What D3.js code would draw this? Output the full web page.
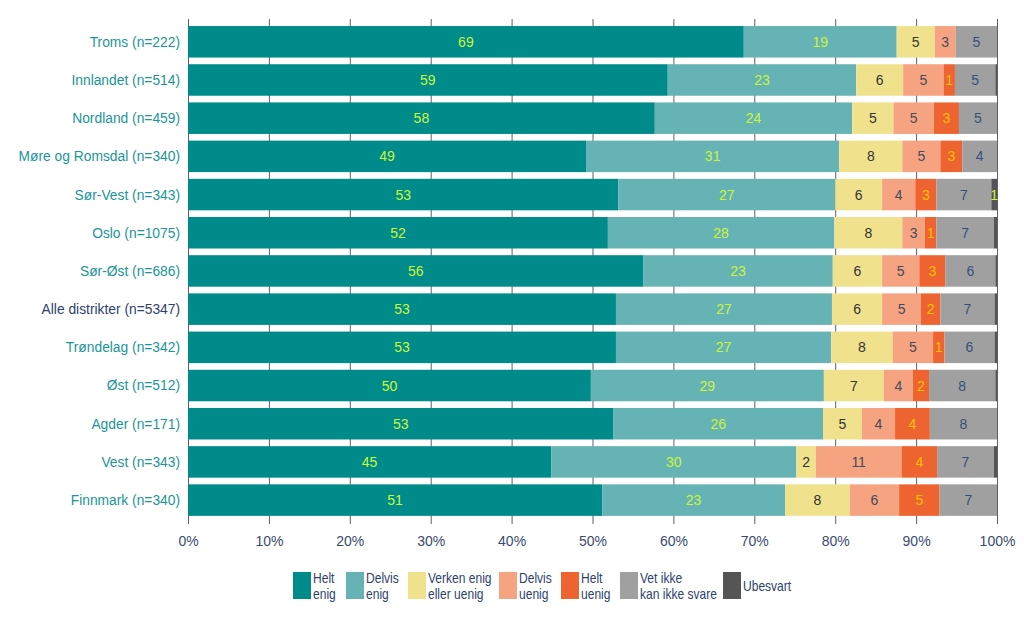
<!DOCTYPE html>
<html><head><meta charset="utf-8">
<script src="https://cdn.jsdelivr.net/npm/d3@7"></script>
<style>body{margin:0;background:#fff}svg{display:block;font-family:"Liberation Sans",Arial,sans-serif}</style>
</head><body><svg id="c" width="1024" height="627"></svg>
<script>
const categories = ["Troms (n=222)","Innlandet (n=514)","Nordland (n=459)","Møre og Romsdal (n=340)","Sør-Vest (n=343)","Oslo (n=1075)","Sør-Øst (n=686)","Alle distrikter (n=5347)","Trøndelag (n=342)","Øst (n=512)","Agder (n=171)","Vest (n=343)","Finnmark (n=340)"];
const seriesNames = ["Helt enig","Delvis enig","Verken enig eller uenig","Delvis uenig","Helt uenig","Vet ikke kan ikke svare","Ubesvart"];
const legendLines = [["Helt","enig"],["Delvis","enig"],["Verken enig","eller uenig"],["Delvis","uenig"],["Helt","uenig"],["Vet ikke","kan ikke svare"],["Ubesvart"]];
const heltEnig    = [68.7,59.3,57.7,49.2,53.2,51.9,56.3,52.9,52.9,49.8,52.6,44.9,51.2];
const delvisEnig  = [18.9,23.3,24.4,31.3,26.8,28.0,23.4,26.7,26.6,28.8,25.9,30.3,22.6];
const verken      = [4.7,5.8,5.1,7.8,5.8,8.4,6.1,6.2,7.6,7.4,4.8,2.4,8.0];
const delvisUenig = [2.6,5.0,5.0,4.7,4.1,2.8,4.6,4.8,5.0,3.6,4.1,10.6,6.1];
const heltUenig   = [0.0,1.4,3.1,2.7,2.6,1.4,3.2,2.4,1.4,2.0,4.3,4.4,5.0];
const vetIkke     = [5.1,5.0,4.7,4.3,6.8,7.1,6.2,6.7,6.2,8.2,8.3,7.0,7.1];
const ubesvart    = [0.0,0.2,0.0,0.0,0.7,0.4,0.2,0.3,0.3,0.2,0.0,0.4,0.0];
const xTicks = [0,10,20,30,40,50,60,70,80,90,100];

const series = [heltEnig,delvisEnig,verken,delvisUenig,heltUenig,vetIkke,ubesvart];
const colors = ["#008b8b","#66b3b5","#f0e28d","#f5a381","#ee6430","#a0a0a0","#555555"];
const labelColors = ["#ccf53a","#ccf53a","#333333","#454b5c","#ffc000","#34507a","#ccf53a"];

const svg = d3.select("#c");
const x = d3.scaleLinear().domain([0,100]).range([188,997]);
const y = d3.scaleBand().domain(categories).range([22.6,519.3]).paddingInner(0.175).paddingOuter(0.09);

// grid
svg.append("g").selectAll("line").data(xTicks).join("line")
  .attr("x1",d=>x(d)+0.5).attr("x2",d=>x(d)+0.5).attr("y1",19).attr("y2",524)
  .attr("stroke","#5a6070").attr("stroke-width",1);

const rows = categories.map((c,i)=>{
  let acc=0;
  return series.map((s,k)=>{const v=s[i];const o={cat:c,k,v,x0:acc,x1:acc+v};acc+=v;return o;});
});
const g = svg.append("g");
rows.forEach(r=>{
  g.selectAll(null).data(r).join("rect")
    .attr("x",d=>x(d.x0)).attr("width",d=>Math.max(0,x(d.x1)-x(d.x0)))
    .attr("y",d=>y(d.cat)).attr("height",y.bandwidth())
    .attr("fill",d=>colors[d.k]);
  g.selectAll(null).data(r.filter(d=>Math.round(d.v)>=1)).join("text")
    .attr("x",d=>x((d.x0+d.x1)/2)).attr("y",d=>y(d.cat)+y.bandwidth()/2)
    .attr("dy","0.36em").attr("text-anchor","middle")
    .attr("font-size",14).attr("fill",d=>labelColors[d.k])
    .text(d=>Math.round(d.v));
});

// y labels
svg.append("g").selectAll("text").data(categories).join("text")
  .attr("x",180).attr("y",d=>y(d)+y.bandwidth()/2).attr("dy","0.36em")
  .attr("text-anchor","end").attr("font-size",13.8)
  .attr("fill",d=>d.startsWith("Alle")?"#2e3f6e":"#1a9696")
  .text(d=>d);

// x axis labels
const xa = d3.axisBottom(x).tickValues(xTicks).tickFormat(d=>d+"%").tickSize(0).tickPadding(0);
const ax = svg.append("g").attr("transform","translate(0,536)").call(xa);
ax.select(".domain").remove();
ax.selectAll("text").attr("font-size",14).attr("fill","#3a4a6e").attr("font-family","Liberation Sans, Arial, sans-serif");

// legend
const legX = [293,346,408,499,561,620,723];
const lg = svg.append("g");
seriesNames.forEach((n,i)=>{
  lg.append("rect").attr("x",legX[i]).attr("y",572).attr("width",18).attr("height",27).attr("fill",colors[i]);
  const lines = legendLines[i];
  const tg = lg.append("g").attr("transform",`translate(${legX[i]+20},0) scale(0.86,1)`);
  const t = tg.append("text").attr("x",0).attr("font-size",14).attr("fill","#2e3f6e");
  if(lines.length===1){
    t.attr("y",586).attr("dy","0.36em").text(lines[0]);
  } else {
    t.attr("y",583);
    t.append("tspan").attr("x",0).attr("dy",0).text(lines[0]);
    t.append("tspan").attr("x",0).attr("dy",16).text(lines[1]);
  }
});
</script></body></html>
